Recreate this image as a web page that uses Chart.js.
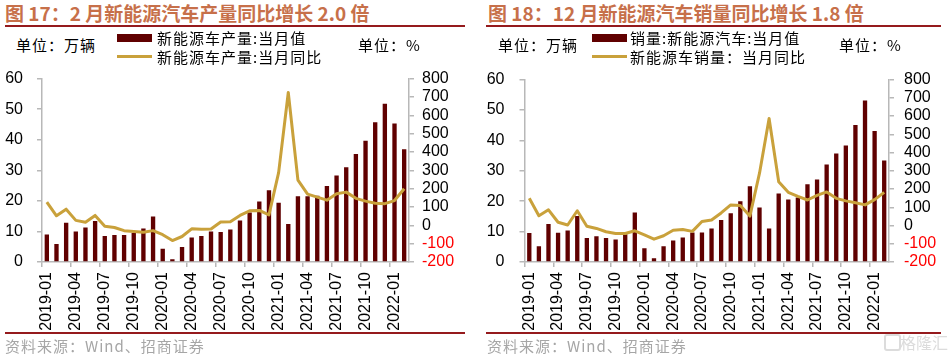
<!DOCTYPE html>
<html><head><meta charset="utf-8">
<script src="https://cdn.jsdelivr.net/npm/chart.js@4"></script>
<style>
html,body{margin:0;padding:0;background:#fff;}
#wrap{position:relative;width:952px;height:356px;overflow:hidden;font-family:"Noto Sans CJK SC","Noto Sans",sans-serif;}
.t{position:absolute;white-space:nowrap;z-index:2;}
.title{font-size:19px;font-weight:bold;color:#C7704A;top:1px;line-height:24px;}
.rule{position:absolute;background:#951A1D;z-index:2;}
.lbl{font-size:15px;line-height:15px;letter-spacing:1px;color:#000;}
.src{font-size:15px;line-height:15px;letter-spacing:1px;color:#A6A6A6;}
.box{position:absolute;z-index:2;}
canvas{position:absolute;top:55px;}
</style></head>
<body><div id="wrap">
  <div class="t title" style="left:5px">图 17：2 月新能源汽车产量同比增长 2.0 倍</div>
  <div class="rule" style="left:5px;top:25px;width:460px;height:2px"></div>
  <div class="t lbl" style="left:16px;top:37px">单位：万辆</div>
  <div class="t lbl" style="left:358px;top:37px">单位：%</div>
  <div class="box" style="left:117px;top:34px;width:35px;height:8px;background:#600000"></div>
  <div class="t lbl" style="left:157px;top:30px">新能源车产量:当月值</div>
  <div class="box" style="left:117px;top:55px;width:35px;height:3px;background:#C9A13B"></div>
  <div class="t lbl" style="left:157px;top:49px">新能源车产量:当月同比</div>
  <div class="rule" style="left:5px;top:332px;width:460px;height:1.5px"></div>
  <div class="t src" style="left:5px;top:338px">资料来源：Wind、招商证券</div>

  <div class="t title" style="left:488px">图 18：12 月新能源汽车销量同比增长 1.8 倍</div>
  <div class="rule" style="left:486px;top:25px;width:455px;height:2px"></div>
  <div class="t lbl" style="left:498px;top:37px">单位：万辆</div>
  <div class="t lbl" style="left:839px;top:37px">单位：%</div>
  <div class="box" style="left:592px;top:34px;width:35px;height:8px;background:#600000"></div>
  <div class="t lbl" style="left:630px;top:30px">销量:新能源汽车:当月值</div>
  <div class="box" style="left:592px;top:55px;width:35px;height:3px;background:#C9A13B"></div>
  <div class="t lbl" style="left:630px;top:49px">新能源车销量：当月同比</div>
  <div class="rule" style="left:486px;top:332px;width:455px;height:1.5px"></div>
  <div class="t src" style="left:487px;top:338px">资料来源：Wind、招商证券</div>
  <div class="box" style="left:884px;top:334px;width:13px;height:13px;border:2px solid #dcdcdc;border-radius:3px;"></div>
  <div class="t" style="left:900px;top:332px;font-size:16px;line-height:20px;color:#dcdcdc;">格隆汇</div>

  <canvas id="c1" width="476" height="285" style="left:0px"></canvas>
  <canvas id="c2" width="476" height="285" style="left:476px"></canvas>
</div>
<script>
const months = [
  "2019-01","2019-02","2019-03","2019-04","2019-05","2019-06","2019-07","2019-08","2019-09","2019-10","2019-11","2019-12",
  "2020-01","2020-02","2020-03","2020-04","2020-05","2020-06","2020-07","2020-08","2020-09","2020-10","2020-11","2020-12",
  "2021-01","2021-02","2021-03","2021-04","2021-05","2021-06","2021-07","2021-08","2021-09","2021-10","2021-11","2021-12",
  "2022-01","2022-02"
];
const prodValues = [
  9.0, 5.9, 12.8, 10.0, 11.3, 13.4, 8.5, 8.8, 8.8, 9.5, 11.0, 14.9,
  4.3, 0.9, 4.9, 8.0, 8.5, 10.0, 9.8, 10.6, 13.6, 16.2, 19.8, 23.5,
  19.4, 12.4, 21.5, 21.5, 21.7, 24.9, 28.3, 31.0, 35.3, 39.7, 45.7, 51.8,
  45.3, 36.9
];
const prodYoY = [
  127, 52, 88, 27, 17, 54, -5, -12, -29, -34, -38, -29,
  -51, -83, -61, -19, -22, -20, 18, 20, 54, 79, 81, 57,
  287, 724, 246, 170, 154, 137, 172, 181, 147, 132, 120, 118,
  135, 199
];
const salesValues = [
  9.5, 5.2, 12.5, 9.6, 10.4, 15.1, 7.9, 8.5, 7.9, 7.4, 9.1, 16.3,
  4.5, 1.2, 5.2, 7.1, 8.1, 9.7, 9.7, 11.0, 13.8, 16.0, 20.0, 24.9,
  17.9, 11.0, 22.5, 20.6, 21.2, 25.6, 27.1, 32.1, 35.7, 38.3, 45.1, 53.1,
  43.1, 33.4
];
const salesYoY = [
  150, 54, 86, 18, 3, 81, -4, -16, -34, -44, -44, -29,
  -51, -75, -56, -26, -22, -32, 22, 30, 69, 113, 110, 52,
  287, 587, 240, 182, 160, 140, 165, 184, 149, 135, 125, 113,
  142, 182
];
const leftTicks = [0, 10, 20, 30, 40, 50, 60];
const rightTicks = [-200, -100, 0, 100, 200, 300, 400, 500, 600, 700, 800];

const AXIS = '#b8b8b8';
const BAR = '#600000';
const LINE = '#C9A13B';
const numFont = {family: "'Liberation Sans', Arial, sans-serif", size: 16};

function makeChart(id, bars, yoy, g) {
  return new Chart(document.getElementById(id), {
    data: {
      labels: months,
      datasets: [
        {type: 'line', data: yoy, yAxisID: 'yR', borderColor: LINE, borderWidth: 3,
         pointRadius: 0, tension: 0, order: 1, borderJoinStyle: 'round'},
        {type: 'bar', data: bars, yAxisID: 'yL', backgroundColor: BAR,
         barPercentage: 0.45, categoryPercentage: 1, order: 2}
      ]
    },
    options: {
      responsive: false, animation: false, devicePixelRatio: 1,
      layout: {padding: {top: 10, left: 0, right: 0, bottom: 0}},
      plugins: {legend: {display: false}, tooltip: {enabled: false}},
      scales: {
        x: {
          type: 'category', offset: true,
          grid: {offset: true, drawOnChartArea: false, drawTicks: true, tickLength: 5, lineWidth: 1.5,
                 tickColor: ctx => (ctx.index !== undefined && ctx.index % 3 === 0) ? AXIS : 'rgba(0,0,0,0)'},
          border: {color: AXIS, width: 1.5},
          ticks: {autoSkip: false, maxRotation: 90, minRotation: 90, padding: 5, color: '#000', font: numFont,
                  callback: (v, i) => i % 3 === 0 ? months[i] : ''},
          afterFit: s => { s.height = 78; }
        },
        yL: {
          position: 'left', min: 0, max: 60,
          afterBuildTicks: s => { s.ticks = leftTicks.map(v => ({value: v})); },
          ticks: {autoSkip: false, padding: g.lp, color: '#000', font: numFont},
          grid: {drawOnChartArea: false, tickLength: 5, color: AXIS, lineWidth: 1.5},
          border: {color: AXIS, width: 1.5},
          afterFit: s => { s.width = g.lw; }
        },
        yR: {
          position: 'right', min: -200, max: 800,
          afterBuildTicks: s => { s.ticks = rightTicks.map(v => ({value: v})); },
          ticks: {autoSkip: false, padding: g.rp, font: numFont, color: ctx => (ctx.tick && ctx.tick.value < 0) ? '#FF0000' : '#000'},
          grid: {drawOnChartArea: false, tickLength: 5, color: AXIS, lineWidth: 1.5},
          border: {color: AXIS, width: 1.5},
          afterFit: s => { s.width = g.rw; }
        }
      }
    }
  });
}
makeChart('c1', prodValues, prodYoY, {lw: 42, rw: 67, lp: 14, rp: 8});
makeChart('c2', salesValues, salesYoY, {lw: 48.5, rw: 63, lp: 15, rp: 10});
</script>
</body></html>
